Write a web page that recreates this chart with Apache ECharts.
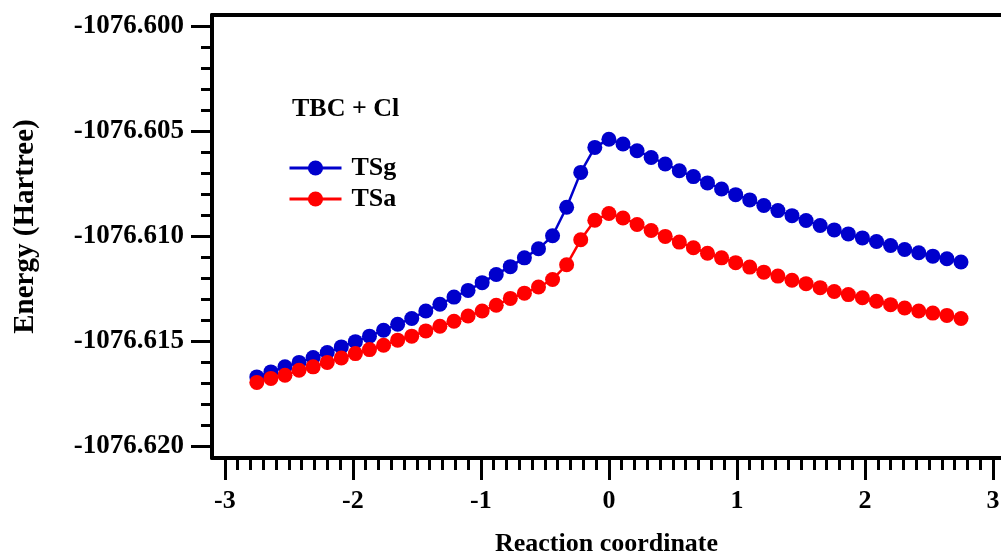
<!DOCTYPE html>
<html><head><meta charset="utf-8">
<script src="https://cdn.jsdelivr.net/npm/echarts@6/dist/echarts.min.js"></script>
<style>html,body{margin:0;padding:0;background:#fff}#c{width:1001px;height:553px}</style>
</head><body><div id="c"></div>
<script>
const reactionCoord = [-2.75,-2.64,-2.53,-2.42,-2.31,-2.20,-2.09,-1.98,-1.87,-1.76,
  -1.65,-1.54,-1.43,-1.32,-1.21,-1.10,-0.99,-0.88,-0.77,-0.66,
  -0.55,-0.44,-0.33,-0.22,-0.11,0,0.11,0.22,0.33,0.44,
  0.55,0.66,0.77,0.88,0.99,1.10,1.21,1.32,1.43,1.54,
  1.65,1.76,1.87,1.98,2.09,2.20,2.31,2.42,2.53,2.64,2.75];
const energyTSg = [-1076.61671,-1076.61647,-1076.61623,-1076.61602,-1076.61579,-1076.61555,-1076.61528,-1076.61503,-1076.61477,-1076.61449,
  -1076.61420,-1076.61393,-1076.61357,-1076.61325,-1076.61291,-1076.61259,-1076.61222,-1076.61183,-1076.61146,-1076.61104,
  -1076.61061,-1076.60999,-1076.60863,-1076.60697,-1076.60578,-1076.60539,-1076.60562,-1076.60594,-1076.60626,-1076.60657,
  -1076.60689,-1076.60717,-1076.60747,-1076.60776,-1076.60803,-1076.60828,-1076.60855,-1076.60879,-1076.60903,-1076.60926,
  -1076.60950,-1076.60971,-1076.60990,-1076.61009,-1076.61026,-1076.61045,-1076.61064,-1076.61080,-1076.61096,-1076.61108,-1076.61124];
const energyTSa = [-1076.61697,-1076.61678,-1076.61663,-1076.61639,-1076.61623,-1076.61602,-1076.61581,-1076.61560,-1076.61541,-1076.61520,
  -1076.61496,-1076.61477,-1076.61452,-1076.61430,-1076.61406,-1076.61381,-1076.61357,-1076.61330,-1076.61297,-1076.61272,
  -1076.61243,-1076.61207,-1076.61137,-1076.61018,-1076.60925,-1076.60893,-1076.60914,-1076.60945,-1076.60974,-1076.61002,
  -1076.61029,-1076.61056,-1076.61082,-1076.61104,-1076.61127,-1076.61148,-1076.61172,-1076.61191,-1076.61211,-1076.61227,
  -1076.61246,-1076.61264,-1076.61279,-1076.61294,-1076.61311,-1076.61327,-1076.61343,-1076.61357,-1076.61367,-1076.61378,-1076.61393];
const seriesNames = ['TSg','TSa'];
const xTickValues = [-3,-2,-1,0,1,2,3];
const xTickLabels = ['-3','-2','-1','0','1','2','3'];
const yTickValues = [-1076.620,-1076.615,-1076.610,-1076.605,-1076.600];
const yTickLabels = ['-1076.620','-1076.615','-1076.610','-1076.605','-1076.600'];

const xMinor = []; for (let k = -30; k <= 30; k++) xMinor.push(k / 10);
const yMinor = []; for (let k = 0; k <= 20; k++) yMinor.push((-1076620 + k) / 1000);

const FONT = "'Liberation Serif','Times New Roman',serif";
const XMIN = -3.1, XMAX = 3.0625, YMIN = -1076.620571, YMAX = -1076.599476;

function lookup(vals, labels, v) {
  for (let i = 0; i < vals.length; i++) if (Math.abs(vals[i] - v) < 1e-7) return labels[i];
  return '';
}

const chart = echarts.init(document.getElementById('c'), null, {renderer: 'canvas'});
chart.setOption({
  animation: false,
  backgroundColor: '#fff',
  grid: {left: 212, right: 0, top: 15, bottom: 95, show: false, containLabel: false, outerBoundsMode: 'none'},
  title: {text: 'TBC + Cl', left: 292, top: 96, padding: 0,
    textStyle: {fontFamily: FONT, fontSize: 26, fontWeight: 'bold', color: '#000', lineHeight: 26}},
  legend: {orient: 'vertical', left: 288, top: 155, padding: 0, itemWidth: 52, itemHeight: 19, itemGap: 5,
    data: seriesNames, lineStyle: {width: 3},
    textStyle: {fontFamily: FONT, fontSize: 26, fontWeight: 'bold', color: '#000', padding: [0,0,0,5]}},
  xAxis: [{
    type: 'value', gridIndex: 0, position: 'bottom', min: XMIN, max: XMAX,
    name: 'Reaction coordinate', nameLocation: 'middle', nameGap: 73,
    nameTextStyle: {fontFamily: FONT, fontSize: 26, fontWeight: 'bold', color: '#000'},
    axisLine: {show: true, onZero: false, lineStyle: {color: '#000', width: 4}},
    axisTick: {show: true, customValues: xTickValues, length: 22, lineStyle: {color: '#000', width: 3}},
    axisLabel: {show: true, customValues: xTickValues, margin: 30, fontFamily: FONT, fontSize: 26, fontWeight: 'bold', color: '#000',
      formatter: v => lookup(xTickValues, xTickLabels, v)},
    splitLine: {show: false}
  }, {
    type: 'value', gridIndex: 0, position: 'bottom', min: XMIN, max: XMAX,
    axisLine: {show: false, onZero: false},
    axisTick: {show: true, customValues: xMinor, length: 12, lineStyle: {color: '#000', width: 3}},
    axisLabel: {show: false},
    splitLine: {show: false}
  }, {
    type: 'value', gridIndex: 0, position: 'top', min: XMIN, max: XMAX,
    axisLine: {show: true, onZero: false, lineStyle: {color: '#000', width: 4}},
    axisTick: {show: false},
    axisLabel: {show: false},
    splitLine: {show: false}
  }],
  yAxis: [{
    type: 'value', gridIndex: 0, position: 'left', min: YMIN, max: YMAX,
    name: 'Energy (Hartree)', nameLocation: 'middle', nameGap: 172, nameRotate: 90,
    nameTextStyle: {fontFamily: FONT, fontSize: 29, fontWeight: 'bold', color: '#000', padding: [0,0,0,20]},
    axisLine: {show: true, onZero: false, lineStyle: {color: '#000', width: 4}},
    axisTick: {show: true, customValues: yTickValues, length: 21, lineStyle: {color: '#000', width: 3}},
    axisLabel: {show: true, customValues: yTickValues, margin: 28, fontFamily: FONT, fontSize: 27, fontWeight: 'bold', color: '#000',
      formatter: v => lookup(yTickValues, yTickLabels, v)},
    splitLine: {show: false}
  }, {
    type: 'value', gridIndex: 0, position: 'left', min: YMIN, max: YMAX,
    axisLine: {show: false, onZero: false},
    axisTick: {show: true, customValues: yMinor, length: 11, lineStyle: {color: '#000', width: 3}},
    axisLabel: {show: false},
    splitLine: {show: false}
  }],
  series: [{
    name: seriesNames[0], type: 'line', xAxisIndex: 0, yAxisIndex: 0,
    data: reactionCoord.map((x, i) => [x, energyTSg[i]]),
    symbol: 'circle', symbolSize: 15,
    itemStyle: {color: '#0000CC'}, lineStyle: {color: '#0000CC', width: 2.5}
  }, {
    name: seriesNames[1], type: 'line', xAxisIndex: 0, yAxisIndex: 0,
    data: reactionCoord.map((x, i) => [x, energyTSa[i]]),
    symbol: 'circle', symbolSize: 15,
    itemStyle: {color: '#FF0000'}, lineStyle: {color: '#FF0000', width: 2.5}
  }]
});
</script></body></html>
